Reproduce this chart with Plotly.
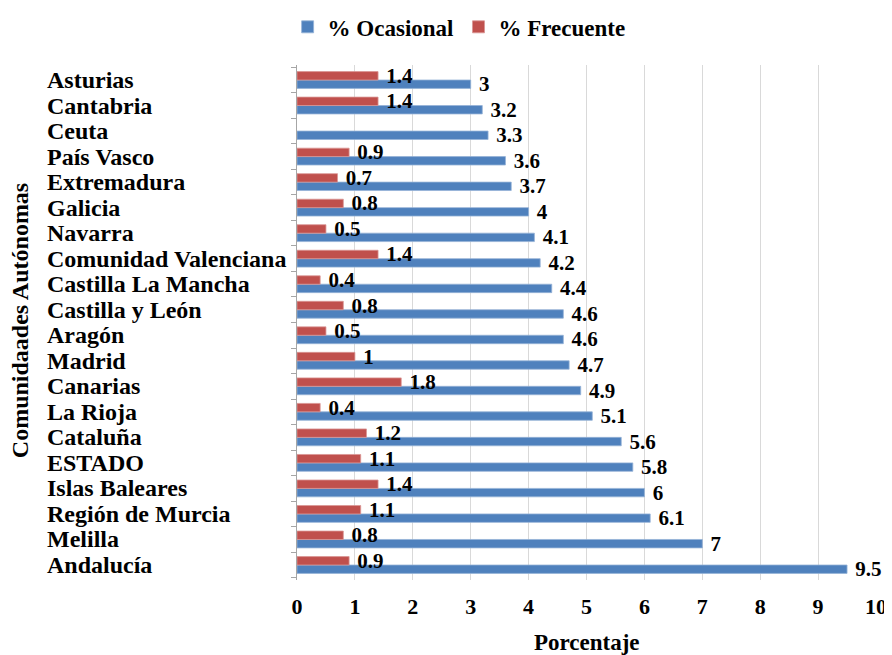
import plotly.graph_objects as go

categorias = ["Asturias", "Cantabria", "Ceuta", "País Vasco", "Extremadura", "Galicia",
              "Navarra", "Comunidad Valenciana", "Castilla La Mancha", "Castilla y León",
              "Aragón", "Madrid", "Canarias", "La Rioja", "Cataluña", "ESTADO",
              "Islas Baleares", "Región de Murcia", "Melilla", "Andalucía"]
ocasional = [3, 3.2, 3.3, 3.6, 3.7, 4, 4.1, 4.2, 4.4, 4.6, 4.6, 4.7, 4.9, 5.1, 5.6, 5.8, 6, 6.1, 7, 9.5]
frecuente = [1.4, 1.4, None, 0.9, 0.7, 0.8, 0.5, 1.4, 0.4, 0.8, 0.5, 1, 1.8, 0.4, 1.2, 1.1, 1.4, 1.1, 0.8, 0.9]
x_ticks = list(range(0, 11))

FONT = "Liberation Serif, Times New Roman, serif"


def bold(size):
    return dict(family=FONT, size=size, color="black", weight="bold")


fig = go.Figure()
fig.add_trace(go.Bar(
    y=categorias, x=ocasional, name="% Ocasional", orientation="h",
    marker=dict(color="#4F81BD", line=dict(color="#95B3D7", width=0.8)),
    text=[f" {v:g}" for v in ocasional],
    textposition="outside", textfont=bold(21), cliponaxis=False,
    constraintext="none",
))
fig.add_trace(go.Bar(
    y=categorias, x=frecuente, name="% Frecuente", orientation="h",
    marker=dict(color="#C0504D", line=dict(color="#D99694", width=0.8)),
    text=[("" if v is None else f" {v:g}") for v in frecuente],
    textposition="outside", textfont=bold(21), cliponaxis=False,
    constraintext="none",
))

for c in categorias:
    fig.add_annotation(x=-0.435, xref="paper", y=c, yref="y", text=c, showarrow=False,
                       xanchor="left", yanchor="middle", font=bold(24))

fig.add_annotation(x=-0.478, xref="paper", y=0.503, yref="paper", text="Comunidaades Autónomas",
                   textangle=-90, showarrow=False, xanchor="center", yanchor="middle",
                   font=bold(24))
fig.add_annotation(x=0.5, xref="paper", y=-0.122, yref="paper", text="Porcentaje",
                   showarrow=False, xanchor="center", yanchor="middle", font=bold(23))

fig.update_layout(
    width=884, height=647,
    margin=dict(l=289, r=16, t=57, b=75, autoexpand=False),
    paper_bgcolor="white", plot_bgcolor="white",
    barmode="group", bargap=0.34, bargroupgap=0,
    showlegend=True,
    legend=dict(orientation="h", x=0.28, y=1.074, xanchor="center", yanchor="middle",
                font=bold(23), bgcolor="rgba(0,0,0,0)"),
    xaxis=dict(range=[0, 10], tickvals=x_ticks, showgrid=True, gridcolor="#D9D9D9",
               gridwidth=1, zeroline=False, showline=False, ticks="",
               ticklabelstandoff=11, tickfont=bold(22)),
    yaxis=dict(categoryorder="array", categoryarray=categorias[::-1],
               showticklabels=False, showline=True, linecolor="#A6A6A6",
               linewidth=1, ticks="outside", ticklen=5, tickcolor="#A6A6A6",
               tickson="boundaries", showgrid=False),
)

fig.write_html("out.html")
